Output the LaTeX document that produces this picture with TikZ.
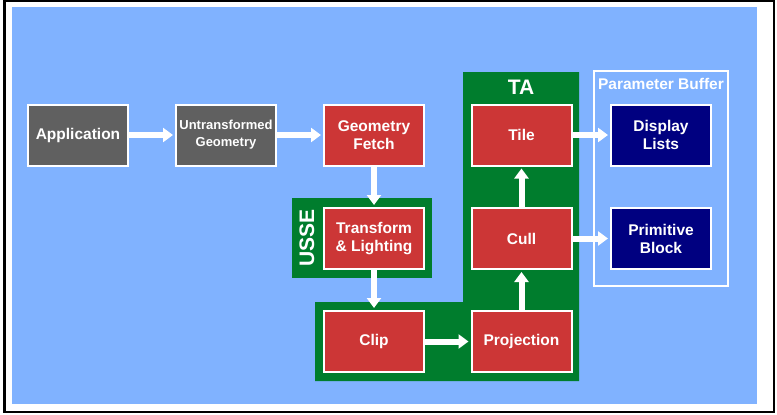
\documentclass[tikz,border=0pt]{standalone}
\usepackage{fontspec}
\setmainfont{Liberation Sans}
\usepackage{xcolor}
\usetikzlibrary{arrows.meta}

\definecolor{bgblue}{RGB}{128,178,255}
\definecolor{boxred}{RGB}{204,54,54}
\definecolor{boxgray}{RGB}{96,96,96}
\definecolor{boxnavy}{RGB}{0,0,128}
\definecolor{unitgreen}{RGB}{0,125,45}

\tikzset{
  block/.style={draw=white, line width=2pt, text=white, align=center,
    minimum width=100pt, minimum height=61pt, inner sep=0pt,
    font=\fontsize{15.5}{18}\selectfont\bfseries},
  redblock/.style={block, fill=boxred},
  grayblock/.style={block, fill=boxgray},
  navyblock/.style={block, fill=boxnavy},
  flow/.style={white, line width=6pt, shorten >=2pt,
    -{Triangle[length=10pt,width=14pt]}},
  unitlabel/.style={text=white, inner sep=0pt, font=\fontsize{21}{21}\selectfont\bfseries}
}

\begin{document}
\begin{tikzpicture}[x=1pt,y=-1pt]
\useasboundingbox (0,0) rectangle (777,415);
% frame and background
\draw [black, line width=2.4pt] (4.5,1.2) rectangle (773.8,411.7);
\fill [bgblue] (11.7,7.3) rectangle (757,404);
% units
\fill [unitgreen] (463,72) -- (579,72) -- (579,381) -- (315,381) -- (315,302) -- (463,302) -- cycle;
\fill [unitgreen] (292,198) rectangle (432,278);
\draw [white, line width=1.5pt] (594,71) rectangle (728,286);
\node [unitlabel] (ta) at (521,87) {TA};
\node [unitlabel, rotate=90] (usse) at (307,238) {USSE};
\node [text=white, inner sep=0pt, font=\fontsize{15.5}{15}\selectfont\bfseries] (pb) at (661,84) {Parameter Buffer};
% blocks
\node [grayblock] (app) at (78,135) {Application};
\node [grayblock, font=\fontsize{13}{17}\selectfont\bfseries] (untr) at (226,135) {Untransformed\\Geometry};
\node [redblock] (fetch) at (374,135) {Geometry\\Fetch};
\node [redblock] (tnl) at (374,238.5) {Transform\\\& Lighting};
\node [redblock] (clip) at (374,341.5) {Clip};
\node [redblock] (proj) at (521.5,341.5) {Projection};
\node [redblock] (cull) at (521.5,238.5) {Cull};
\node [redblock] (tile) at (521.5,135) {Tile};
\node [navyblock] (disp) at (661,135) {Display\\Lists};
\node [navyblock] (prim) at (661,238.5) {Primitive\\Block};
% flow
\draw [flow] (app) -- (untr);
\draw [flow] (untr) -- (fetch);
\draw [flow] (fetch) -- (tnl);
\draw [flow] (tnl) -- (clip);
\draw [flow] (clip) -- (proj);
\draw [flow] (proj) -- (cull);
\draw [flow] (cull) -- (tile);
\draw [flow] (tile) -- (disp);
\draw [flow] (cull) -- (prim);
\end{tikzpicture}
\end{document}
